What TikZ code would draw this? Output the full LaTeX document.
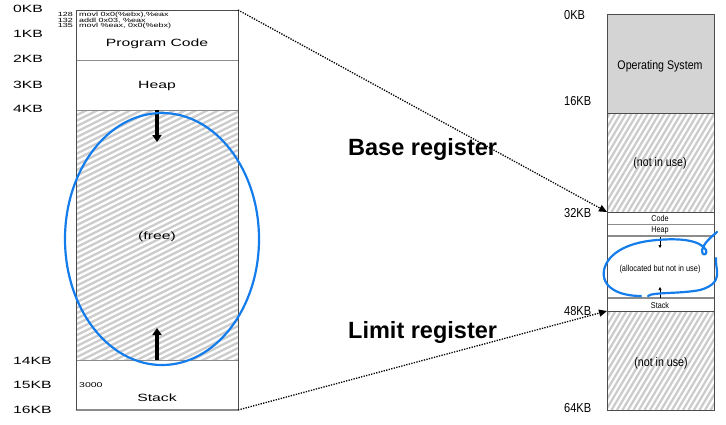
\documentclass[tikz,border=0pt]{standalone}
\usepackage{fontspec}
\setmainfont{Liberation Sans}
\newfontfamily\lf[FakeStretch=1.5]{Liberation Sans}
\newfontfamily\rf[FakeStretch=0.85]{Liberation Sans}
\usetikzlibrary{arrows.meta}
\definecolor{hatch}{gray}{0.8}
\definecolor{edge}{gray}{0.3}
\definecolor{div}{gray}{0.55}
\definecolor{osgray}{gray}{0.83}
\definecolor{penblue}{RGB}{20,125,235}
\tikzset{
  ltxt/.style={font=\lf\fontsize{10.5}{12}\selectfont, inner sep=0pt, text depth=0pt},
  codetxt/.style={font=\lf\fontsize{6}{6}\selectfont, inner sep=0pt, text depth=0pt},
  kbl/.style={font=\lf\fontsize{10.5}{12}\selectfont, anchor=west, inner sep=0pt, text depth=0pt},
  kbr/.style={font=\rf\fontsize{13}{14}\selectfont, anchor=west, inner sep=0pt, text depth=0pt},
  rtxt/.style={font=\rf\fontsize{12.5}{14}\selectfont, inner sep=0pt, text depth=0pt},
  rsmall/.style={font=\rf\fontsize{8.5}{10}\selectfont, inner sep=0pt, text depth=0pt},
  regtxt/.style={font=\bfseries\fontsize{23.5}{25}\selectfont, anchor=west, inner sep=0pt, text depth=0pt},
  hline/.style={hatch, line width=2.3pt},
  boxedge/.style={edge, line width=1pt},
  divline/.style={div, line width=1pt},
  growarrow/.style={line width=3.5pt, -{Triangle[length=7pt,width=9pt]}},
  smallarrow/.style={line width=0.6pt, -{Triangle[length=3pt,width=3pt]}},
  regline/.style={line width=1.3pt, dash pattern=on 1.3pt off 1.3pt, -{Triangle[length=8pt,width=7pt]}},
  pen/.style={penblue, line width=2.2pt, line cap=round, line join=round}
}
\begin{document}
\begin{tikzpicture}[x=1pt,y=-1pt]
\useasboundingbox (0,0) rectangle (726,424);

% ---------- left address space ----------
\begin{scope}
  \clip (76,110) rectangle (238,360);
  \foreach \k in {0,...,64} \draw[hline] (76,{110+5.5*\k}) -- ++(162,-81);
\end{scope}
\draw[divline] (76,60) -- (238,60);
\draw[divline] (76,110) -- (238,110);
\draw[divline] (76,360) -- (238,360);
\draw[div, line width=1.6pt] (76,410) -- (238,410);
\draw[boxedge] (76,410) -- (76,10) -- (238,10) -- (238,410);

\coordinate (ltop) at (238,10);
\coordinate (lbot) at (238,410);

\node[kbl] (k0) at (13,9) {0KB};
\node[kbl] (k1) at (13,34) {1KB};
\node[kbl] (k2) at (13,59) {2KB};
\node[kbl] (k3) at (13,85) {3KB};
\node[kbl] (k4) at (13,109) {4KB};
\node[kbl] (k14) at (13,361) {14KB};
\node[kbl] (k15) at (13,385) {15KB};
\node[kbl] (k16) at (13,410) {16KB};

\node[codetxt, anchor=east] (n128) at (73,14.5) {128};
\node[codetxt, anchor=east] (n132) at (73,20) {132};
\node[codetxt, anchor=east] (n135) at (73,25.5) {135};
\node[codetxt, anchor=west] (c1) at (79,14.5) {movl 0x0(\%ebx),\%eax};
\node[codetxt, anchor=west] (c2) at (79,20) {addl 0x03, \%eax};
\node[codetxt, anchor=west] (c3) at (79,25.5) {movl \%eax, 0x0(\%ebx)};

\node[ltxt] (pc) at (157,43) {Program Code};
\node[ltxt] (heap) at (157,85) {Heap};
\node[ltxt] (free) at (157,236) {(free)};
\node[codetxt, font=\lf\fontsize{7}{7}\selectfont, anchor=west] (n3000) at (79,385) {3000};
\node[ltxt] (stack) at (157,398) {Stack};

\coordinate (hs) at (157,110);
\coordinate (he) at (157,142);
\coordinate (ss) at (157,360);
\coordinate (se) at (157,328);
\draw[growarrow] (hs) -- (he);
\draw[growarrow] (ss) -- (se);

\draw[pen] (162,239) ellipse [x radius=97pt, y radius=126pt];

% ---------- right physical memory ----------
\fill[osgray] (607,14) rectangle (714,113);
\begin{scope}
  \clip (607,113) rectangle (714,212);
  \foreach \k in {0,...,34} \draw[hline] ({540+5.5*\k},212) -- ++(62,-104);
\end{scope}
\begin{scope}
  \clip (607,311) rectangle (714,410);
  \foreach \k in {0,...,34} \draw[hline] ({540+5.5*\k},410) -- ++(62,-104);
\end{scope}
\draw[boxedge] (607,113) -- (714,113);
\draw[boxedge] (607,212) -- (714,212);
\draw[divline] (607,224) -- (714,224);
\draw[div, line width=1.4pt] (607,236) -- (714,236);
\draw[div, line width=1.4pt] (607,298) -- (714,298);
\draw[boxedge] (607,311) -- (714,311);
\draw[boxedge] (607,14) rectangle (714,410);

\coordinate (rbase) at (607,212);
\coordinate (rlimit) at (607,311);

\node[kbr] (r0) at (564,15) {0KB};
\node[kbr] (r16) at (564,101) {16KB};
\node[kbr] (r32) at (564,213) {32KB};
\node[kbr] (r48) at (564,311) {48KB};
\node[kbr] (r64) at (564,408) {64KB};

\node[rtxt] (os) at (660,65) {Operating System};
\node[rtxt] (niu1) at (660,162) {(not in use)};
\node[rtxt] (niu2) at (661,362) {(not in use)};
\node[rsmall] (rcode) at (660,218) {Code};
\node[rsmall] (rheap) at (660,230) {Heap};
\node[rsmall, font=\rf\fontsize{8.7}{10}\selectfont] (alloc) at (660,268) {(allocated but not in use)};
\node[rsmall] (rstack) at (660,305) {Stack};

\coordinate (ahs) at (660,237);
\coordinate (ahe) at (660,248);
\coordinate (ass) at (660,298);
\coordinate (ase) at (660,287);
\draw[smallarrow] (ahs) -- (ahe);
\draw[smallarrow] (ass) -- (ase);

% blue pen marks
\draw[pen] (717,232) .. controls (710,238) and (704,243) .. (702,250)
  .. controls (701,256) and (708,256) .. (706,250)
  .. controls (700,240) and (680,238) .. (657,240)
  .. controls (630,242) and (608,252) .. (604,270)
  .. controls (601,288) and (620,296) .. (641,296);
\draw[pen] (648,296) .. controls (652,292) and (680,294) .. (700,290)
  .. controls (714,286) and (718,280) .. (717,270)
  .. controls (716,265) and (716,261) .. (716,258);

% ---------- registers ----------
\node[regtxt] (base) at (348,147) {Base register};
\node[regtxt] (limit) at (348,330) {Limit register};
\draw[regline] (ltop) -- (rbase);
\draw[regline] (lbot) -- (rlimit);
\end{tikzpicture}
\end{document}
